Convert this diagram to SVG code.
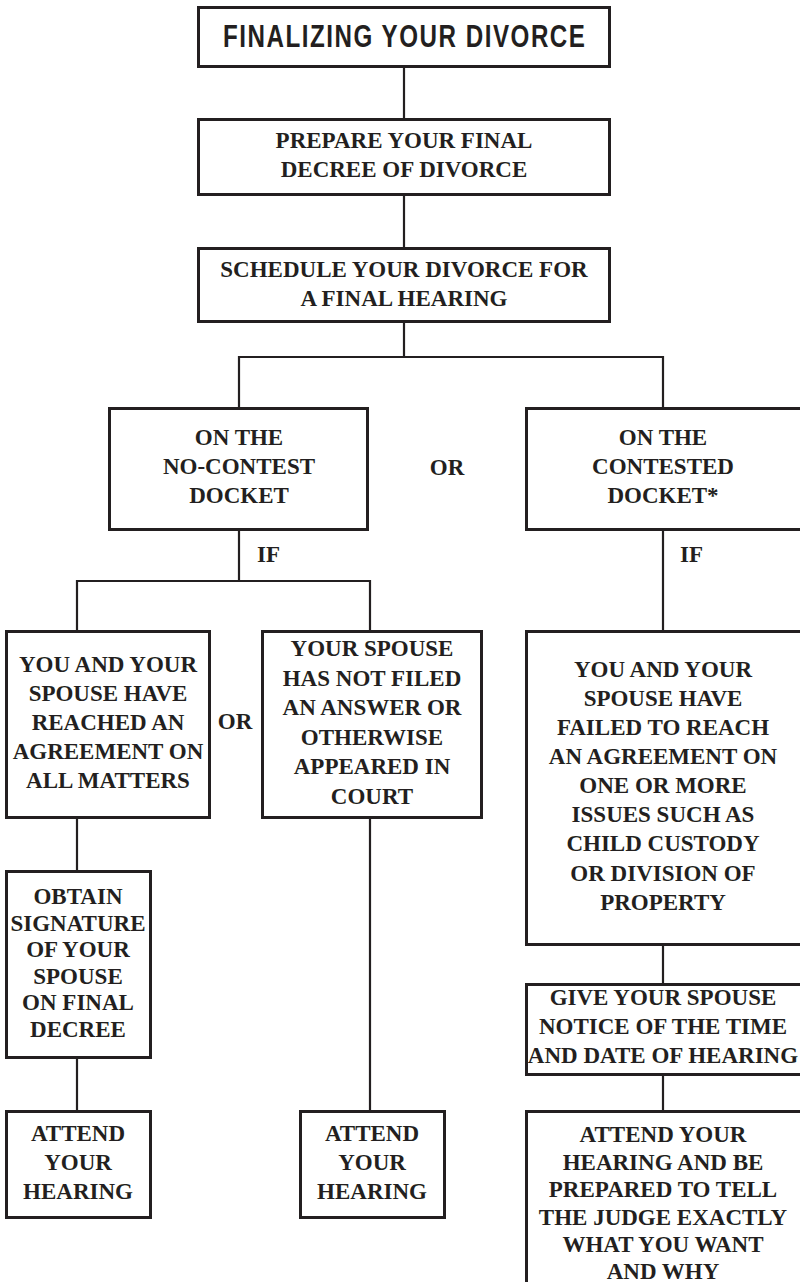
<svg xmlns="http://www.w3.org/2000/svg" width="800" height="1282" viewBox="0 0 800 1282">
<style>
.box{fill:#fff;stroke:#231f20;stroke-width:3}
.ln{stroke:#231f20;stroke-width:2.2;fill:none}
.t{font-family:"Liberation Serif","Times New Roman",serif;font-weight:bold;font-size:23px;fill:#231f20;text-anchor:middle}
.lbl{font-family:"Liberation Serif","Times New Roman",serif;font-weight:bold;font-size:23px;fill:#231f20}
.title{font-family:"Liberation Sans",Arial,sans-serif;font-weight:bold;font-size:31px;fill:#231f20;text-anchor:middle}
</style>
<rect width="800" height="1282" fill="#fff"/>
<g id="connectors">
<path class="ln" d="M404 68V118M404 196V247M404 323V357M239 357H663M239 356V407M663 356V407"/>
<path class="ln" d="M239 531V581M77 581H370M77 580V630M370 580V630M663 531V630"/>
<path class="ln" d="M77 819V870M77 1059V1110M370 819V1110M663 946V983M663 1076V1110"/>
</g>
<g id="labels">
<text class="lbl" x="447" y="475" text-anchor="middle">OR</text>
<text class="lbl" x="257" y="562">IF</text>
<text class="lbl" x="680" y="562">IF</text>
<text class="lbl" x="235" y="729" text-anchor="middle">OR</text>
</g>
<g id="title">
<rect class="box" x="198.5" y="7.5" width="411" height="59"/>
<g transform="translate(404,47) scale(0.78,1)">
<text class="title" x="0" y="0" textLength="464" lengthAdjust="spacing">FINALIZING YOUR DIVORCE</text>
</g>
</g>
<g id="prepare">
<rect class="box" x="198.5" y="119.5" width="411" height="75"/>
<text class="t" x="404" y="148">PREPARE YOUR FINAL</text>
<text class="t" x="404" y="177">DECREE OF DIVORCE</text>
</g>
<g id="schedule">
<rect class="box" x="198.5" y="248.5" width="411" height="73"/>
<text class="t" x="404" y="277">SCHEDULE YOUR DIVORCE FOR</text>
<text class="t" x="404" y="306">A FINAL HEARING</text>
</g>
<g id="nocontest">
<rect class="box" x="109.5" y="408.5" width="258" height="121"/>
<text class="t" x="239" y="445">ON THE</text>
<text class="t" x="239" y="474">NO-CONTEST</text>
<text class="t" x="239" y="503">DOCKET</text>
</g>
<g id="contested">
<rect class="box" x="526.5" y="408.5" width="278" height="121"/>
<text class="t" x="663" y="445">ON THE</text>
<text class="t" x="663" y="474">CONTESTED</text>
<text class="t" x="663" y="503">DOCKET*</text>
</g>
<g id="agreement">
<rect class="box" x="6.5" y="631.5" width="203" height="186"/>
<text class="t" x="108" y="672">YOU AND YOUR</text>
<text class="t" x="108" y="701">SPOUSE HAVE</text>
<text class="t" x="108" y="730">REACHED AN</text>
<text class="t" x="108" y="759">AGREEMENT ON</text>
<text class="t" x="108" y="788">ALL MATTERS</text>
</g>
<g id="notfiled">
<rect class="box" x="262.5" y="631.5" width="219" height="186"/>
<text class="t" x="372" y="656">YOUR SPOUSE</text>
<text class="t" x="372" y="685.5">HAS NOT FILED</text>
<text class="t" x="372" y="715">AN ANSWER OR</text>
<text class="t" x="372" y="744.5">OTHERWISE</text>
<text class="t" x="372" y="774">APPEARED IN</text>
<text class="t" x="372" y="803.5">COURT</text>
</g>
<g id="failed">
<rect class="box" x="526.5" y="631.5" width="278" height="313"/>
<text class="t" x="663" y="677">YOU AND YOUR</text>
<text class="t" x="663" y="706">SPOUSE HAVE</text>
<text class="t" x="663" y="735">FAILED TO REACH</text>
<text class="t" x="663" y="764">AN AGREEMENT ON</text>
<text class="t" x="663" y="793">ONE OR MORE</text>
<text class="t" x="663" y="822">ISSUES SUCH AS</text>
<text class="t" x="663" y="851">CHILD CUSTODY</text>
<text class="t" x="663" y="881">OR DIVISION OF</text>
<text class="t" x="663" y="910">PROPERTY</text>
</g>
<g id="obtain">
<rect class="box" x="6.5" y="871.5" width="144" height="186"/>
<text class="t" x="78" y="904">OBTAIN</text>
<text class="t" x="78" y="930.5">SIGNATURE</text>
<text class="t" x="78" y="957">OF YOUR</text>
<text class="t" x="78" y="983.5">SPOUSE</text>
<text class="t" x="78" y="1010">ON FINAL</text>
<text class="t" x="78" y="1036.5">DECREE</text>
</g>
<g id="attend1">
<rect class="box" x="6.5" y="1111.5" width="144" height="106"/>
<text class="t" x="78" y="1141">ATTEND</text>
<text class="t" x="78" y="1170">YOUR</text>
<text class="t" x="78" y="1199">HEARING</text>
</g>
<g id="attend2">
<rect class="box" x="300.5" y="1111.5" width="144" height="106"/>
<text class="t" x="372" y="1141">ATTEND</text>
<text class="t" x="372" y="1170">YOUR</text>
<text class="t" x="372" y="1199">HEARING</text>
</g>
<g id="notice">
<rect class="box" x="526.5" y="984.5" width="278" height="90"/>
<text class="t" x="663" y="1005">GIVE YOUR SPOUSE</text>
<text class="t" x="663" y="1034">NOTICE OF THE TIME</text>
<text class="t" x="663" y="1063">AND DATE OF HEARING</text>
</g>
<g id="attend3">
<rect class="box" x="526.5" y="1111.5" width="278" height="180"/>
<text class="t" x="663" y="1142">ATTEND YOUR</text>
<text class="t" x="663" y="1169.5">HEARING AND BE</text>
<text class="t" x="663" y="1197">PREPARED TO TELL</text>
<text class="t" x="663" y="1224.5">THE JUDGE EXACTLY</text>
<text class="t" x="663" y="1252">WHAT YOU WANT</text>
<text class="t" x="663" y="1279">AND WHY</text>
</g>
</svg>
